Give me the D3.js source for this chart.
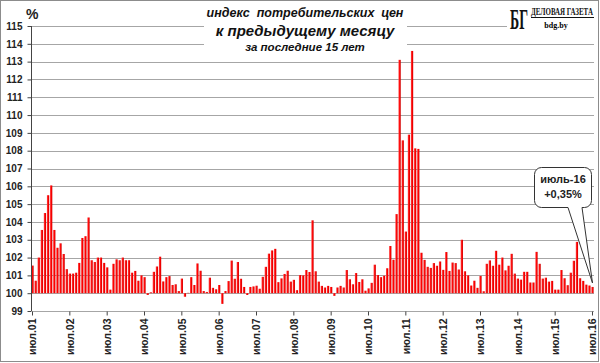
<!DOCTYPE html>
<html lang="ru">
<head>
<meta charset="UTF-8">
<title>индекс потребительских цен</title>
<script src="https://cdnjs.cloudflare.com/ajax/libs/d3/7.8.5/d3.min.js"></script>
<style>
  body { margin: 0; background: #fff; }
  svg { display: block; font-family: 'Liberation Sans', Arial, sans-serif; }
</style>
</head>
<body>
<svg id="chart"></svg>
<script>
// monthly CPI, % of previous month, Jul 2001 .. Jul 2016
const cpi = [
  101.55, 100.7, 102.0, 103.55, 104.5, 105.5,
  106.05, 103.55, 102.55, 102.8, 102.2, 101.35,
  101.1, 101.1, 101.15, 101.7, 103.1, 103.2,
  104.25, 101.85, 101.75, 102.0, 102.0, 101.7,
  101.45, 100.2, 101.65, 101.9, 101.85, 102.0,
  101.85, 101.85, 101.15, 101.25, 100.7, 101.0,
  100.9, 99.9, 100.05, 101.2, 101.5, 102.05,
  100.66, 100.9, 100.96, 100.46, 100.5, 100.12,
  100.82, 99.8, 100.02, 100.9, 100.46, 101.67,
  101.26, 100.12, 100.07, 100.87, 100.3, 100.22,
  100.46, 99.4, 100.12, 100.68, 101.83, 100.81,
  101.75, 100.81, 100.35, 99.9, 100.35, 100.38,
  100.42, 100.25, 100.92, 101.48, 102.22, 102.4,
  102.49, 100.62, 100.83, 101.08, 101.26, 100.65,
  100.75, 100.17, 101.02, 101.0, 101.3, 101.19,
  104.09, 101.23, 100.65, 100.41, 100.32, 100.41,
  100.35, 99.85, 100.32, 100.41, 100.32, 101.3,
  100.78, 100.5, 101.13, 100.63, 100.78, 100.14,
  100.27, 100.58, 101.6, 101.02, 100.9, 100.98,
  101.4, 102.65, 101.88, 104.44, 113.1, 108.58,
  103.46, 108.9, 113.6, 108.13, 108.1, 102.27,
  101.87, 101.48, 101.42, 101.69, 101.54, 101.78,
  101.31, 102.31, 101.25, 101.72, 101.69, 101.33,
  103.0, 101.23, 101.0, 100.43, 100.7, 100.3,
  100.97, 100.11, 101.65, 101.84, 101.54, 102.38,
  101.6, 102.0, 101.28, 101.54, 102.21, 101.1,
  100.82, 100.76, 101.2, 101.2, 100.6, 100.6,
  102.32, 101.65, 100.82, 100.87, 100.65, 100.69,
  100.2, 100.2, 101.3, 100.84, 100.45, 101.15,
  101.82, 102.88, 100.84, 100.69, 100.48, 100.43,
  100.35
];
const months = cpi.map((d, i) => i);   // 0 = июль 2001
const tickLabels = ['июл.01', 'июл.02', 'июл.03', 'июл.04', 'июл.05', 'июл.06', 'июл.07', 'июл.08',
                    'июл.09', 'июл.10', 'июл.11', 'июл.12', 'июл.13', 'июл.14', 'июл.15', 'июл.16'];
const yTicks = [99, 100, 101, 102, 103, 104, 105, 106, 107, 108, 109, 110, 111, 112, 113, 114, 115];
const titleLines = ['индекс  потребительских  цен', 'к предыдущему месяцу', 'за последние 15 лет'];
const calloutLines = ['июль-16', '+0,35%'];

const width = 600, height = 363;
const plotLeft = 31, plotRight = 594, plotTop = 26, plotBottom = 311;

const svg = d3.select('#chart').attr('width', width).attr('height', height);

const x = d3.scaleBand().domain(months).range([plotLeft, plotRight]).paddingInner(0.27).paddingOuter(0.12);
const y = d3.scaleLinear().domain([99, 115]).range([plotBottom, plotTop]);

const defs = svg.append('defs');
const grad = defs.append('linearGradient').attr('id', 'bar').attr('x1', 0).attr('x2', 1).attr('y1', 0).attr('y2', 0);
grad.append('stop').attr('offset', '0%').attr('stop-color', '#ff4a4a');
grad.append('stop').attr('offset', '55%').attr('stop-color', '#ff0000');
grad.append('stop').attr('offset', '100%').attr('stop-color', '#c80000');

// frame
svg.append('rect')
  .attr('x', 0.5).attr('y', 0.5).attr('width', 598).attr('height', 361)
  .attr('fill', '#fff').attr('stroke', '#8c8c8c');

// gridlines
svg.append('g')
  .selectAll('line')
  .data(yTicks.filter(d => d > 99))
  .join('line')
  .attr('x1', plotLeft).attr('x2', plotRight)
  .attr('y1', d => Math.round(y(d)) + 0.5).attr('y2', d => Math.round(y(d)) + 0.5)
  .attr('stroke', '#a6a6a6');

// title box covers the top gridlines
svg.append('rect').attr('x', 204).attr('y', 1).attr('width', 203).attr('height', 52).attr('fill', '#fff');
svg.append('rect').attr('x', 507).attr('y', 1).attr('width', 91).attr('height', 34).attr('fill', '#fff');

// bars
svg.append('g')
  .selectAll('rect')
  .data(months)
  .join('rect')
  .attr('x', d => x(d))
  .attr('width', x.bandwidth())
  .attr('y', d => Math.min(y(cpi[d]), y(100)))
  .attr('height', d => Math.abs(y(cpi[d]) - y(100)))
  .attr('fill', 'url(#bar)');

// y axis
const yAxis = d3.axisLeft(y).tickValues(yTicks).tickSize(4).tickFormat(d3.format('d'));
const gy = svg.append('g').attr('transform', `translate(${plotLeft + 0.5},0)`).call(yAxis);
gy.select('.domain').attr('stroke', '#444').attr('d', `M0,${plotTop}V${plotBottom}`);
gy.selectAll('.tick line').attr('stroke', '#444');
gy.selectAll('.tick text')
  .attr('x', -9)
  .attr('font-size', 10).attr('font-weight', 'bold').attr('fill', '#222')
  .attr('font-family', "'Liberation Sans', Arial, sans-serif");

// x axis
const xAxis = d3.axisBottom(x)
  .tickValues(months.filter(d => d % 12 === 0))
  .tickSize(4)
  .tickFormat(d => tickLabels[d / 12]);
const gx = svg.append('g').attr('transform', `translate(0,${plotBottom + 0.5})`).call(xAxis);
gx.select('.domain').attr('stroke', '#a6a6a6').attr('d', `M${plotLeft},0H${plotRight}`);
gx.selectAll('.tick line').attr('stroke', '#444');
gx.selectAll('.tick text')
  .attr('transform', 'rotate(-90)')
  .attr('x', -7).attr('y', 0).attr('dy', '0.35em')
  .attr('text-anchor', 'end')
  .attr('font-size', 10.5).attr('font-weight', 'bold').attr('fill', '#222')
  .attr('font-family', "'Liberation Sans', Arial, sans-serif");

// "%"
svg.append('text').attr('x', 26).attr('y', 19)
  .attr('font-size', 14).attr('font-weight', 'bold').attr('fill', '#222')
  .text('%');

// title
const titleSizes = [12.5, 15, 11.5];
const titleY = [17, 36, 51];
svg.append('g')
  .selectAll('text')
  .data(titleLines)
  .join('text')
  .attr('x', 305)
  .attr('y', (d, i) => titleY[i])
  .attr('text-anchor', 'middle')
  .attr('font-size', (d, i) => titleSizes[i])
  .attr('font-weight', 'bold')
  .attr('font-style', 'italic')
  .attr('fill', '#111')
  .style('white-space', 'pre')
  .text(d => d);

// logo: condensed serif, squeezed with a horizontal scale
function squeezed(txt, x0, y0, size, target) {
  const g = svg.append('g');
  const t = g.append('text')
    .attr('font-family', "'Liberation Serif', serif").attr('font-size', size).attr('font-weight', 'bold')
    .attr('fill', '#111')
    .text(txt);
  const k = target / t.node().getComputedTextLength();
  g.attr('transform', `translate(${x0},${y0}) scale(${k},1)`);
}
squeezed('БГ', 510, 29, 30, 18);
squeezed('ДЕЛОВАЯ ГАЗЕТА', 531, 15, 9.5, 62);
svg.append('line').attr('x1', 531).attr('x2', 594).attr('y1', 17.5).attr('y2', 17.5).attr('stroke', '#111');
svg.append('text').attr('x', 556).attr('y', 27.5)
  .attr('text-anchor', 'middle')
  .attr('font-family', "'Liberation Serif', serif").attr('font-size', 8).attr('font-weight', 'bold')
  .text('bdg.by');

// callout for the last month
const last = months[months.length - 1];
const tipX = x(last) + x.bandwidth() / 2;
const tipY = y(cpi[last]) - 4;
const bx0 = 534.5, by0 = 167.5, bx1 = 591.5, by1 = 207.5, r = 7;
const p = d3.path();
p.moveTo(bx0 + r, by0);
p.lineTo(bx1 - r, by0);
p.arcTo(bx1, by0, bx1, by0 + r, r);
p.lineTo(bx1, by1 - r);
p.arcTo(bx1, by1, bx1 - r, by1, r);
p.lineTo(582, by1);
p.lineTo(tipX, tipY);
p.lineTo(568, by1);
p.lineTo(bx0 + r, by1);
p.arcTo(bx0, by1, bx0, by1 - r, r);
p.lineTo(bx0, by0 + r);
p.arcTo(bx0, by0, bx0 + r, by0, r);
p.closePath();
svg.append('path').attr('d', p.toString()).attr('fill', '#fff').attr('stroke', '#333');
svg.append('g')
  .selectAll('text')
  .data(calloutLines)
  .join('text')
  .attr('x', (bx0 + bx1) / 2)
  .attr('y', (d, i) => 183 + i * 14.5)
  .attr('text-anchor', 'middle')
  .attr('font-size', 11).attr('font-weight', 'bold').attr('fill', '#222')
  .text(d => d);
</script>
</body>
</html>
